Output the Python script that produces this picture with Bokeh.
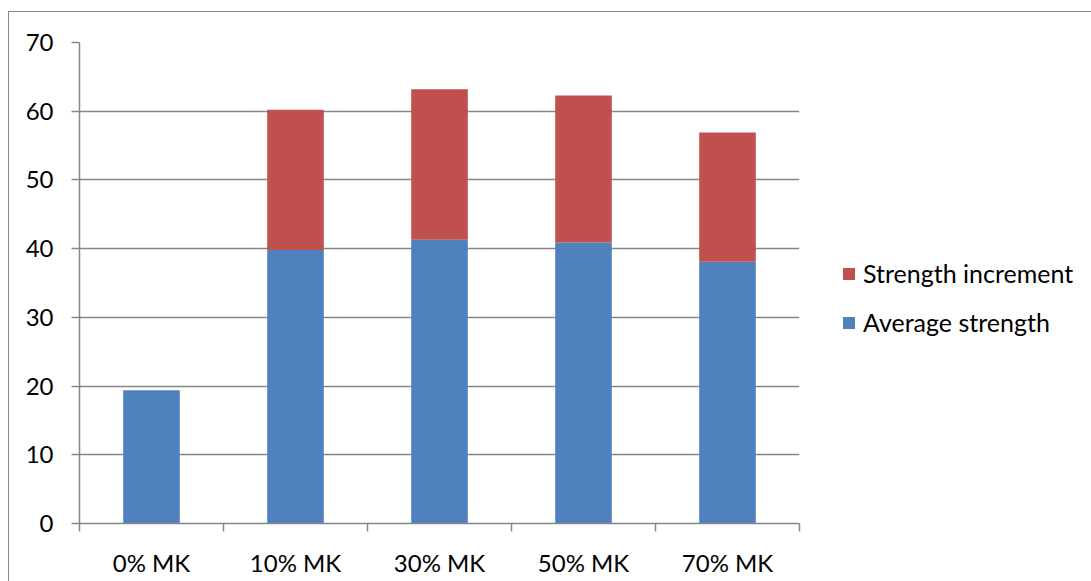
from bokeh.plotting import figure
from bokeh.models import FixedTicker, Legend, LegendItem, ColumnDataSource, Range1d
from bokeh.embed import file_html
from bokeh.resources import INLINE

categories = ["0% MK", "10% MK", "30% MK", "50% MK", "70% MK"]
average_strength = [19.4, 39.8, 41.3, 40.9, 38.1]
strength_increment = [0.0, 20.4, 21.9, 21.4, 18.8]
y_ticks = [0, 10, 20, 30, 40, 50, 60, 70]

BLUE = "#4F81BD"
RED = "#C0504D"
GRAY = "#868686"
FONT = "Lato"
FS = "24px"

centers = [i + 0.5 for i in range(len(categories))]
bounds = [i for i in range(len(categories) + 1)]

src = ColumnDataSource(dict(x=centers, avg=average_strength, inc=strength_increment))

p = figure(frame_width=720, frame_height=481,
           x_range=Range1d(0, len(categories)), y_range=Range1d(0, 70),
           output_backend="svg", toolbar_location=None,
           min_border_left=70, min_border_right=40,
           min_border_top=30, min_border_bottom=59)
p.margin = (11, 0, 0, 8)
p.styles = {"border-left": f"1px solid {GRAY}", "border-top": f"1px solid {GRAY}"}
p.outline_line_color = None
p.background_fill_color = "white"
p.border_fill_color = "white"

rs = p.vbar_stack(["avg", "inc"], x="x", width=0.393, color=[BLUE, RED],
                  line_color=None, source=src)

# x axis: labels at category centers, tick marks at category boundaries
p.xaxis.ticker = FixedTicker(ticks=centers, minor_ticks=bounds)
p.xaxis.major_label_overrides = {c: lab for c, lab in zip(centers, categories)}
p.xaxis.major_tick_out = 0
p.xaxis.major_tick_in = 0
p.xaxis.minor_tick_out = 8
p.xaxis.minor_tick_in = 0
p.xaxis.minor_tick_line_color = GRAY
p.xaxis.minor_tick_line_width = 1.5
p.xaxis.axis_line_color = GRAY
p.xaxis.axis_line_width = 1.5
p.xaxis.major_label_standoff = 16
p.xaxis.major_label_text_font = FONT
p.xaxis.major_label_text_font_size = FS
p.xaxis.major_label_text_color = "black"
p.xgrid.grid_line_color = None

# y axis
p.yaxis.ticker = FixedTicker(ticks=y_ticks)
p.yaxis.major_tick_out = 8
p.yaxis.major_tick_in = 0
p.yaxis.minor_tick_out = 0
p.yaxis.minor_tick_in = 0
p.yaxis.major_tick_line_color = GRAY
p.yaxis.major_tick_line_width = 1.5
p.yaxis.axis_line_color = GRAY
p.yaxis.axis_line_width = 1.5
p.yaxis.major_label_standoff = 18
p.yaxis.major_label_text_font = FONT
p.yaxis.major_label_text_font_size = FS
p.yaxis.major_label_text_color = "black"
p.ygrid.grid_line_color = GRAY
p.ygrid.grid_line_width = 1.5
p.ygrid.ticker = FixedTicker(ticks=y_ticks)

legend = Legend(items=[LegendItem(label="Strength increment", renderers=[rs[1]]),
                       LegendItem(label="Average strength", renderers=[rs[0]])],
                location=(42, 186))
legend.border_line_color = None
legend.background_fill_alpha = 0
legend.margin = 0
legend.padding = 0
legend.glyph_width = 15
legend.glyph_height = 15
legend.label_height = 20
legend.spacing = 19
legend.label_standoff = 7
legend.label_text_font = FONT
legend.label_text_font_size = "25px"
legend.label_text_color = "black"
p.add_layout(legend, "right")

open("out.html", "w").write(file_html(p, INLINE))
